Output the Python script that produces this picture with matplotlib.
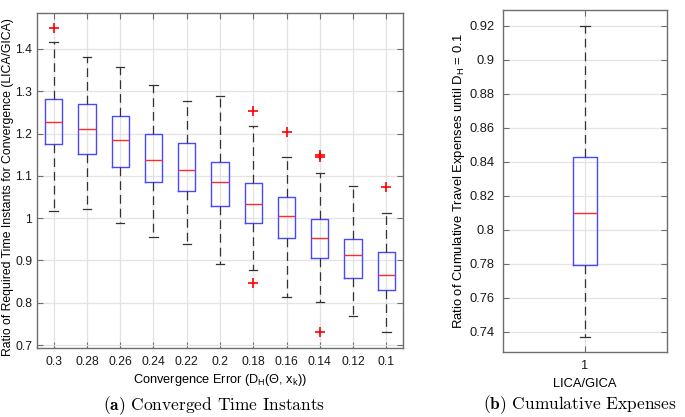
import matplotlib
matplotlib.use("Agg")
import matplotlib.pyplot as plt

# ---------------- data ----------------
conv_errors = ["0.3", "0.28", "0.26", "0.24", "0.22", "0.2", "0.18", "0.16", "0.14", "0.12", "0.1"]
whis_hi = [1.416, 1.380, 1.358, 1.315, 1.276, 1.289, 1.217, 1.144, 1.106, 1.076, 1.013]
q3      = [1.281, 1.271, 1.242, 1.199, 1.177, 1.132, 1.082, 1.051, 0.997, 0.951, 0.920]
medians = [1.228, 1.210, 1.185, 1.138, 1.115, 1.085, 1.034, 1.005, 0.952, 0.912, 0.866]
q1      = [1.175, 1.152, 1.122, 1.086, 1.064, 1.028, 0.989, 0.952, 0.905, 0.858, 0.829]
whis_lo = [1.017, 1.021, 0.988, 0.955, 0.939, 0.891, 0.878, 0.814, 0.802, 0.768, 0.730]
outliers = [[1.450], [], [], [], [], [], [1.254, 0.847], [1.204], [1.149, 1.144, 0.730], [], [1.074]]

exp_label = ["1"]
exp_whis_hi = [0.920]
exp_q3 = [0.843]
exp_median = [0.810]
exp_q1 = [0.779]
exp_whis_lo = [0.737]
exp_outliers = [[]]

left_yticks = [0.7, 0.8, 0.9, 1.0, 1.1, 1.2, 1.3, 1.4]
left_ytick_labels = ["0.7", "0.8", "0.9", "1", "1.1", "1.2", "1.3", "1.4"]
right_yticks = [0.74, 0.76, 0.78, 0.80, 0.82, 0.84, 0.86, 0.88, 0.90, 0.92]
right_ytick_labels = ["0.74", "0.76", "0.78", "0.8", "0.82", "0.84", "0.86", "0.88", "0.9", "0.92"]

# ---------------- style ----------------
plt.rcParams['font.family'] = ['Liberation Sans', 'DejaVu Sans']
plt.rcParams['mathtext.fontset'] = 'custom'
plt.rcParams['mathtext.rm'] = 'Liberation Sans'
plt.rcParams['mathtext.it'] = 'Liberation Sans'
plt.rcParams['mathtext.bf'] = 'Liberation Sans:bold'

W, H = 685, 417
fig = plt.figure(figsize=(W / 100, H / 100), dpi=100)

SPINE = '#6e6e6e'
GRID = '#e3e3e3'


def make_stats(lo, a, m, b, hi, fl):
    return [dict(whislo=w0, q1=x1, med=md, q3=x3, whishi=w1, fliers=f)
            for w0, x1, md, x3, w1, f in zip(lo, a, m, b, hi, fl)]


def style_axes(ax, fs, ypad):
    for s in ax.spines.values():
        s.set_color(SPINE)
        s.set_linewidth(1.0)
    ax.tick_params(direction='in', length=4, width=0.8, color=SPINE,
                   top=True, right=True, labelsize=fs, labelcolor='#1a1a1a')
    ax.tick_params(axis='x', pad=6)
    ax.tick_params(axis='y', pad=ypad)
    ax.grid(True, color=GRID, linewidth=0.9)
    ax.set_axisbelow(True)


def draw(ax, stats, positions, width, capw):
    ax.bxp(stats, positions=positions, widths=width, capwidths=capw,
           showfliers=True,
           boxprops=dict(color='#4848ff', linewidth=1.0),
           medianprops=dict(color='#ff2a2a', linewidth=1.0),
           whiskerprops=dict(color='#333333', linewidth=0.9, linestyle=(0, (7, 4))),
           capprops=dict(color='#333333', linewidth=0.9),
           flierprops=dict(marker='+', markeredgecolor='red', markersize=7,
                           markeredgewidth=1.2, linestyle='none'))


# ---------- left panel ----------
axL = fig.add_axes([37 / W, (H - 348) / H, (403 - 37) / W, (348 - 13) / H])
posL = list(range(1, len(conv_errors) + 1))
draw(axL, make_stats(whis_lo, q1, medians, q3, whis_hi, outliers), posL, 0.52, 0.25)
axL.set_xlim(0.5, len(conv_errors) + 0.5)
axL.set_ylim(0.693, 1.485)
axL.set_xticks(posL)
axL.set_xticklabels(conv_errors)
axL.set_yticks(left_yticks)
axL.set_yticklabels(left_ytick_labels)
style_axes(axL, 8.7, 3.5)
axL.set_xlabel(r"Convergence Error (D$_\mathrm{H}$($\Theta$, x$_\mathrm{k}$))", fontsize=9.2, labelpad=3)
axL.set_ylabel("Ratio of Required Time Instants for Convergence (LICA/GICA)", fontsize=8.8)
axL.yaxis.set_label_coords((14 - 37) / (403 - 37), 0.48)

# ---------- right panel ----------
axR = fig.add_axes([503 / W, (H - 352) / H, (667 - 503) / W, (352 - 10) / H])
posR = [1]
draw(axR, make_stats(exp_whis_lo, exp_q1, exp_median, exp_q3, exp_whis_hi, exp_outliers),
     posR, 0.146, 0.057)
axR.set_xlim(0.5, 1.5)
axR.set_ylim(0.728, 0.9294)
axR.set_xticks(posR)
axR.set_xticklabels(exp_label)
axR.set_yticks(right_yticks)
axR.set_yticklabels(right_ytick_labels)
style_axes(axR, 9.3, 6)
axR.set_xlabel("LICA/GICA", fontsize=9.3, labelpad=4)
axR.set_ylabel(r"Ratio of Cumulative Travel Expenses until D$_\mathrm{H}$ = 0.1", fontsize=9.4)
axR.yaxis.set_label_coords((467 - 503) / (667 - 503), 0.5)

# ---------- captions ----------
fig.text(214 / W, 1 - 406 / H, r"$\mathbf{(a)}$ Converged Time Instants",
         fontfamily='cmr10', math_fontfamily='cm', fontsize=12.5,
         ha='center', va='center')
fig.text(580 / W, 1 - 405 / H, r"$\mathbf{(b)}$ Cumulative Expenses",
         fontfamily='cmr10', math_fontfamily='cm', fontsize=12.5,
         ha='center', va='center')

fig.savefig("out.png", dpi=100)
